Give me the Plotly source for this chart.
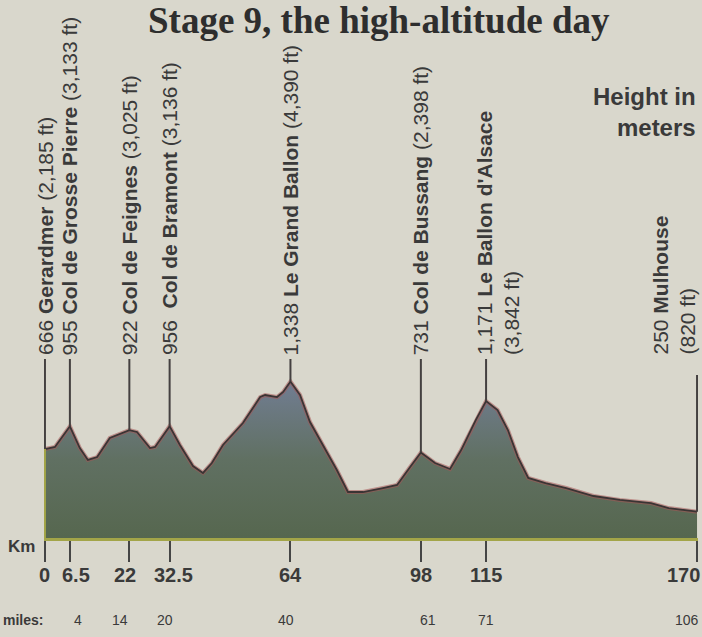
import numpy as np
import plotly.graph_objects as go

# ---------------- data ----------------
profile_km = [0, 2.6, 6.5, 9.1, 11.2, 13.6, 16.9, 22, 24.0, 27.4, 28.7, 32.5, 35.2, 38.6,
              41.2, 43.5, 46.4, 51.6, 56.1, 57.4, 60.5, 62.1, 64, 66.5, 69.1, 72.5, 76.1,
              79.0, 82.9, 88.1, 91.8, 95.2, 98, 101.7, 105.6, 108.5, 112.3, 115, 118.0,
              120.7, 123.3, 126.0, 130.5, 135.9, 143.0, 149.9, 158.0, 162.6, 170]
profile_m = [760, 778, 955, 769, 667, 692, 855, 922, 906, 769, 778, 956, 795, 615,
             556, 641, 795, 983, 1205, 1222, 1205, 1248, 1338, 1222, 991, 795, 581,
             393, 393, 427, 453, 607, 731, 641, 590, 752, 1008, 1171, 1094,
             923, 692, 513, 470, 427, 359, 325, 299, 256, 225]

label_km = [0, 6.5, 22, 32.5, 64, 98, 115, 170]
label_text = [
    "666 <b>Gerardmer</b> (2,185 ft)",
    "955 <b>Col de Grosse Pierre</b> (3,133 ft)",
    "922 <b>Col de Feignes</b> (3,025 ft)",
    "956\u00a0 <b>Col de Bramont</b> (3,136 ft)",
    "1,338 <b>Le Grand Ballon</b> (4,390 ft)",
    "731 <b>Col de Bussang</b> (2,398 ft)",
    "1,171 <b>Le Ballon d'Alsace</b><br>(3,842 ft)",
    "250 <b>Mulhouse</b><br>(820 ft)",
]

tick_km = [0, 6.5, 22, 32.5, 64, 98, 115, 170]
tick_text = ["0", "6.5", "22", "32.5", "64", "98", "115", "170"]
miles_text = ["", "4", "14", "20", "40", "61", "71", "106"]

title = "Stage 9, the high-altitude day"

# ---------------- layout constants ----------------
W, H = 702, 637
L, R, T, B = 44, 4, 0, 99
PX_PER_M = 0.117
plot_h = H - T - B
y_max = plot_h / PX_PER_M
TEXT = "#3a3a3a"
BG = "#d9d7cc"
LINE_TOP = 1530     # top end of the leader lines (m)
LABEL_Y = 1547      # bottom of the rotated labels (m)
FONT = "Liberation Sans, Arial, sans-serif"

# small horizontal nudges for the km / miles labels (pixels)
tick_shift = [0, 6, -4, 4, 0, 0, 0, -14]
miles_shift = [0, 8, -9, -5, -4, 7, 0, -10]
label_shift = [0, 0, 0, 0, 0, 0, 12, -24]

fig = go.Figure()

fig.add_trace(go.Scatter(
    x=profile_km, y=profile_m, mode="lines", fill="tozeroy",
    line=dict(color="rgba(0,0,0,0)", width=0),
    fillgradient=dict(type="vertical", start=0, stop=1338,
                      colorscale=[[0, "#56674f"], [0.5, "#607062"], [1, "#717d92"]]),
    hoverinfo="skip", showlegend=False,
))
# faint reddish halo of the printed outline
fig.add_trace(go.Scatter(
    x=profile_km, y=profile_m, mode="lines",
    line=dict(color="rgba(165,85,85,0.55)", width=4),
    hoverinfo="skip", showlegend=False,
))
fig.add_trace(go.Scatter(
    x=profile_km, y=profile_m, mode="lines",
    line=dict(color="#3b3434", width=1.8),
    hoverinfo="skip", showlegend=False,
))

shapes = []
annotations = []
for i, (km, txt) in enumerate(zip(label_km, label_text)):
    base = float(np.interp(km, profile_km, profile_m))
    top = LINE_TOP if i < 7 else 1393
    shapes.append(dict(type="line", xref="x", yref="y", x0=km, x1=km, y0=base, y1=top,
                       line=dict(color="#444040", width=2), layer="above"))
    annotations.append(dict(x=km, y=LABEL_Y, xref="x", yref="y", text=txt, textangle=-90,
                            showarrow=False, xanchor="center", yanchor="bottom", align="left",
                            xshift=label_shift[i],
                            font=dict(family=FONT, size=21, color=TEXT)))

# left edge of the fill
shapes.append(dict(type="line", xref="x", yref="y", x0=0, x1=0, y0=0, y1=profile_m[0],
                   line=dict(color="#a3a548", width=2)))

# title
annotations.append(dict(x=0.512, y=1, xref="paper", yref="paper", text="<b>" + title + "</b>",
                        showarrow=False, xanchor="center", yanchor="top", yshift=2,
                        font=dict(family="Liberation Serif, Times New Roman, serif", size=37,
                                  color="#2e2e2e")))
# height in meters
annotations.append(dict(x=1, y=1 - 112 / plot_h, xref="paper", yref="paper",
                        text="<b>Height in<br>meters</b>", showarrow=False,
                        xanchor="right", yanchor="middle", align="right",
                        font=dict(family=FONT, size=24, color=TEXT)))
# Km
annotations.append(dict(x=0, y=0, xref="paper", yref="paper", text="<b>Km</b>",
                        showarrow=False, xanchor="right", yanchor="middle", xshift=-7,
                        yshift=-8,
                        font=dict(family=FONT, size=17, color=TEXT)))
# km tick labels
for km, tt, sh in zip(tick_km, tick_text, tick_shift):
    annotations.append(dict(x=km, y=0, xref="x", yref="paper", text="<b>" + tt + "</b>",
                            showarrow=False, xanchor="center", yanchor="middle",
                            xshift=sh, yshift=-37,
                            font=dict(family=FONT, size=20, color=TEXT)))
# miles
annotations.append(dict(x=0, y=0, xref="paper", yref="paper", text="<b>miles:</b>",
                        showarrow=False, xanchor="left", yanchor="middle", xshift=-43,
                        yshift=-82,
                        font=dict(family=FONT, size=14, color=TEXT)))
for km, mt, sh in zip(tick_km, miles_text, miles_shift):
    if mt:
        annotations.append(dict(x=km, y=0, xref="x", yref="paper", text=mt,
                                showarrow=False, xanchor="center", yanchor="middle",
                                xshift=sh, yshift=-82,
                                font=dict(family=FONT, size=14, color=TEXT)))

fig.update_layout(
    width=W, height=H,
    margin=dict(l=L, r=R, t=T, b=B, pad=0),
    paper_bgcolor=BG, plot_bgcolor=BG,
    shapes=shapes, annotations=annotations,
    showlegend=False,
    xaxis=dict(range=[-0.25, 170.25], tickvals=tick_km, showticklabels=False,
               ticks="outside", ticklen=21, tickwidth=2, tickcolor="#454545",
               showline=True, linecolor="#a3a548", linewidth=3,
               showgrid=False, zeroline=False, fixedrange=True),
    yaxis=dict(range=[0, y_max], visible=False, showgrid=False, zeroline=False,
               fixedrange=True),
)

fig.write_html("out.html",
               config={"displayModeBar": False, "staticPlot": True},
               post_script="document.body.style.margin='0';"
                           "document.body.style.overflow='hidden';"
                           "document.body.style.background='%s';" % BG)
